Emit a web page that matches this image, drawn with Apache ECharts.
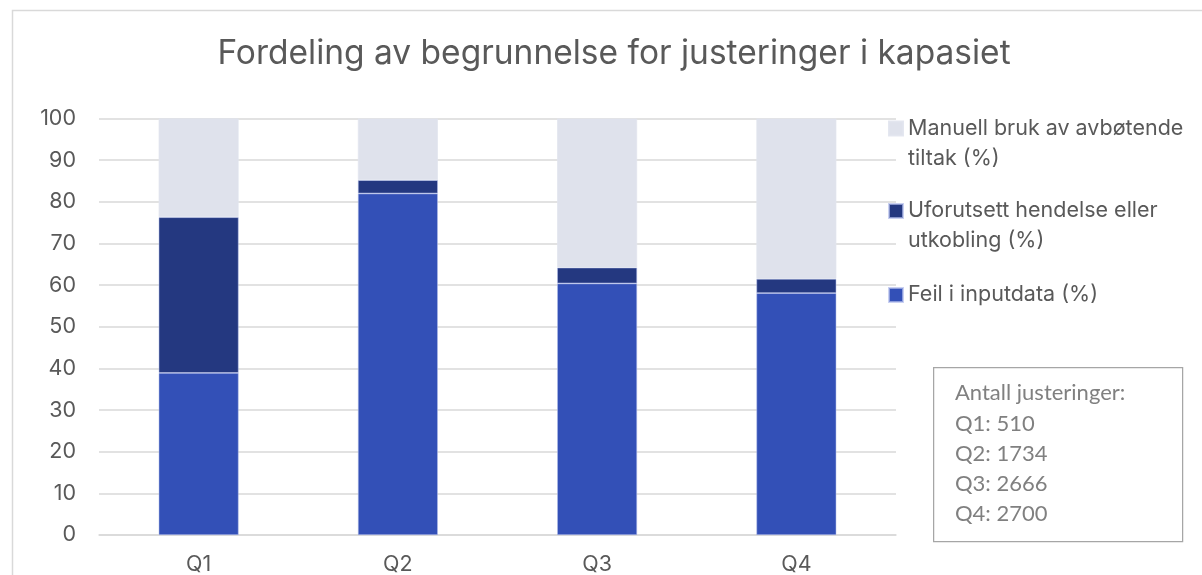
<!DOCTYPE html>
<html>
<head>
<meta charset="utf-8">
<script src="https://cdn.jsdelivr.net/npm/echarts@6/dist/echarts.min.js"></script>
<style>
html,body{margin:0;padding:0;background:#fff;}
#chart{width:1202px;height:575px;}
</style>
</head>
<body>
<div id="chart"></div>
<script>
const categories = ['Q1', 'Q2', 'Q3', 'Q4'];
const feilInputdata = [38.9, 82.0, 60.4, 58.1];
const uforutsett = [37.4, 3.2, 3.8, 3.4];
const manuell = [23.7, 14.8, 35.8, 38.5];
const yTicks = [0, 10, 20, 30, 40, 50, 60, 70, 80, 90, 100];
const seriesNames = ['Feil i inputdata (%)', 'Uforutsett hendelse eller utkobling (%)', 'Manuell bruk av avbøtende tiltak (%)'];
const legendLabels = {
  'Manuell bruk av avbøtende tiltak (%)': '\nManuell bruk av avbøtende\ntiltak (%)',
  'Uforutsett hendelse eller utkobling (%)': '\nUforutsett hendelse eller\nutkobling (%)',
  'Feil i inputdata (%)': 'Feil i inputdata (%)'
};
const titleText = 'Fordeling av begrunnelse for justeringer i kapasiet';
const boxLines = ['Antall justeringer:', 'Q1: 510', 'Q2: 1734', 'Q3: 2666', 'Q4: 2700'];

const FONT = 'Inter';
const colors = ['#3350b7', '#243880', '#dfe2ec'];
const chart = echarts.init(document.getElementById('chart'), null, {renderer: 'canvas'});

function legendFor(name, top) {
  return {
    data: [name],
    left: 888,
    top: top,
    padding: 0,
    itemWidth: 14,
    itemHeight: 14,
    itemGap: 6,
    icon: 'rect',
    formatter: n => legendLabels[n],
    textStyle: {
      fontFamily: FONT,
      fontSize: 21.5,
      color: '#595959',
      lineHeight: 30
    }
  };
}

chart.setOption({
  animation: false,
  color: colors,
  title: {
    text: titleText,
    left: 614,
    textAlign: 'center',
    top: 37,
    padding: 0,
    textStyle: {fontFamily: FONT, fontSize: 33.5, fontWeight: 'normal', color: '#595959'}
  },
  legend: [
    legendFor(seriesNames[2], 128.5 - 45),
    legendFor(seriesNames[1], 211 - 45),
    legendFor(seriesNames[0], 295 - 15)
  ],
  grid: {left: 99, right: 306, top: 118.5, bottom: 40, containLabel: false, outerBoundsMode: 'none'},
  xAxis: {
    type: 'category',
    data: categories,
    axisLine: {lineStyle: {color: '#d9d9d9', width: 1.5}},
    axisTick: {show: false},
    axisLabel: {fontFamily: FONT, fontSize: 21.5, color: '#595959', margin: 19}
  },
  yAxis: {
    type: 'value',
    min: 0, max: 100, interval: 10,
    axisLine: {show: false},
    axisTick: {show: false},
    splitLine: {lineStyle: {color: '#d9d9d9', width: 1.5}},
    axisLabel: {fontFamily: FONT, fontSize: 21.5, color: '#595959', margin: 23,
      formatter: v => yTicks.includes(v) ? String(v) : ''}
  },
  series: [
    {name: seriesNames[0], type: 'bar', stack: 'a', data: feilInputdata, barWidth: 80,
      itemStyle: {color: colors[0], borderColor: 'rgba(180,190,235,0.7)', borderWidth: 0.75}},
    {name: seriesNames[1], type: 'bar', stack: 'a', data: uforutsett, barWidth: 80,
      itemStyle: {color: colors[1], borderColor: 'rgba(180,190,235,0.7)', borderWidth: 0.75}},
    {name: seriesNames[2], type: 'bar', stack: 'a', data: manuell, barWidth: 80,
      itemStyle: {color: colors[2], borderColor: 'rgba(225,228,238,0.9)', borderWidth: 0.75}}
  ],
  graphic: [
    {type: 'rect', left: 10, top: 8, silent: true, z: -10,
      shape: {width: 1300, height: 700},
      style: {fill: 'none', stroke: '#d9d9d9', lineWidth: 1.5}},
    {type: 'rect', left: 933, top: 367, silent: true,
      shape: {width: 249, height: 174},
      style: {fill: '#fff', stroke: '#a6a6a6', lineWidth: 1.25}},
    {type: 'text', left: 955, top: 378, silent: true,
      style: {text: boxLines.join('\n'), fontFamily: 'Lato', fontSize: 22, lineHeight: 30.3, fill: '#808080'}}
  ]
});
</script>
</body>
</html>
